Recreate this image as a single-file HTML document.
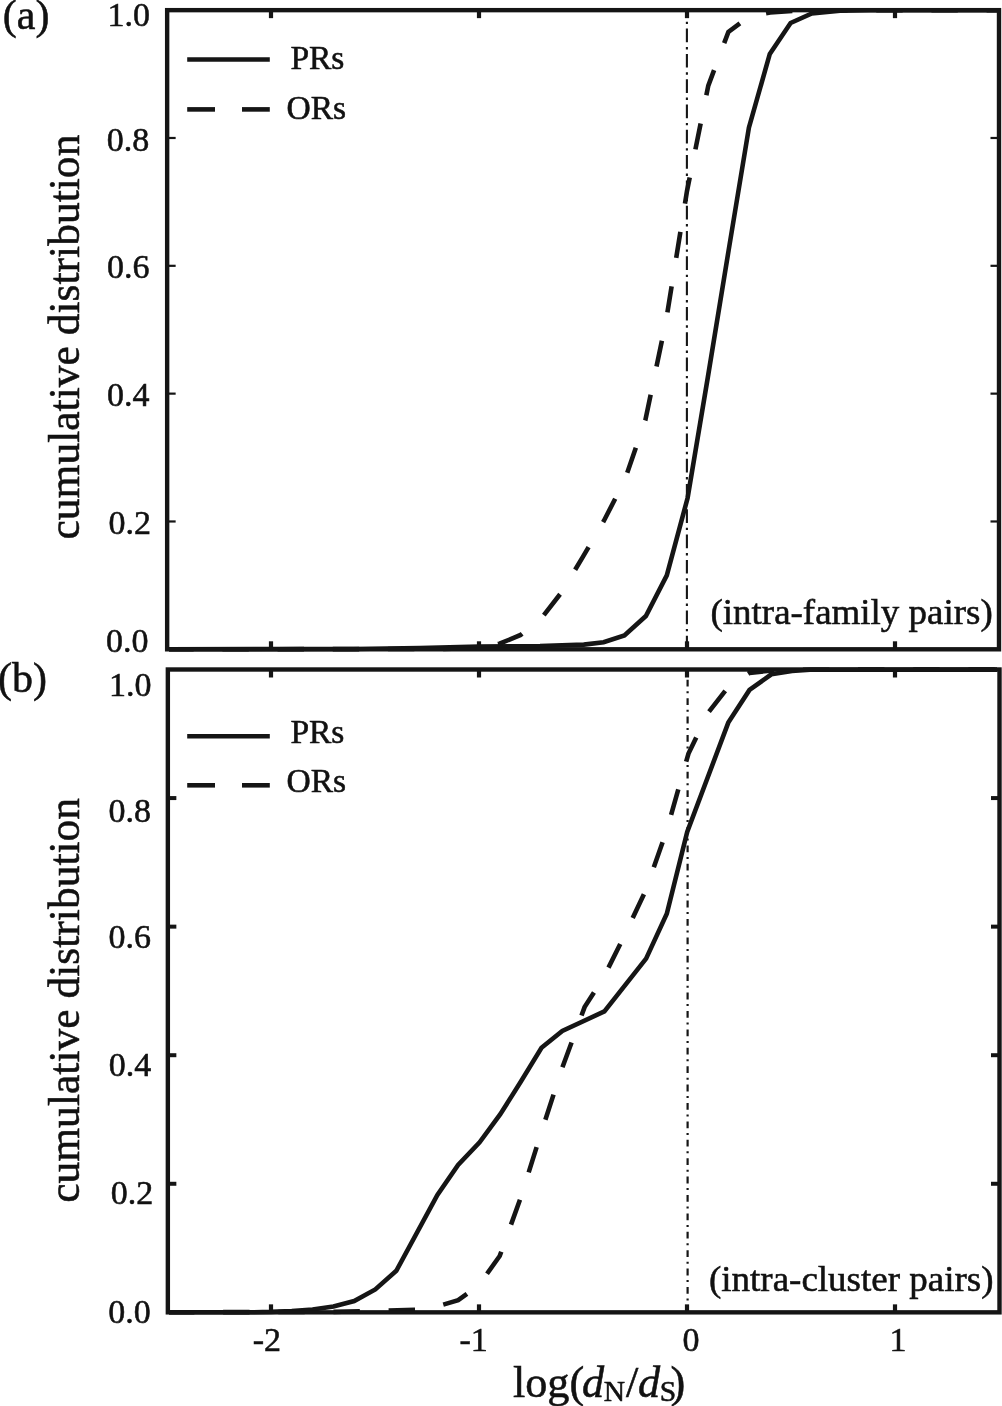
<!DOCTYPE html>
<html><head><meta charset="utf-8"><title>cumulative distribution</title>
<style>html,body{margin:0;padding:0;background:#fff;}svg{display:block;will-change:transform;}</style></head>
<body><svg width="1002" height="1406" viewBox="0 0 1002 1406">
<rect x="0" y="0" width="1002" height="1406" fill="#fff"/>

<line x1="686.9" y1="10" x2="686.9" y2="649" stroke="#151515" stroke-width="2.1" stroke-dasharray="13.7 4.7 2.4 4.5" stroke-dashoffset="6.70"/>
<line x1="687.6" y1="669.5" x2="687.6" y2="1312" stroke="#151515" stroke-width="2.2" stroke-dasharray="6.8 4.7 2.0 4.9" stroke-dashoffset="8.10"/>
<polyline points="169.0,649.3 354.0,649.0 420.0,648.0 479.0,646.6 540.0,646.0 583.8,644.6 603.6,642.2 624.4,635.4 645.9,616.0 666.8,575.4 687.6,498.0 707.8,377.5 728.6,250.5 748.9,127.7 769.8,53.9 790.6,23.0 811.8,13.4 840.0,10.8 870.0,10.2 997.0,10.2" fill="none" stroke="#151515" stroke-width="4.6" stroke-linejoin="miter"/>
<polyline points="169.0,649.3 440.0,649.0 479.0,647.8 499.5,643.7 520.6,635.0 541.4,618.2 562.2,591.5 583.0,556.6 603.8,521.0 624.6,480.4 645.4,420.0 666.2,320.0 687.0,191.0 708.3,85.6 728.4,31.9 749.4,16.2 770.2,12.5 800.0,10.5 830.0,10.2 997.0,10.2" fill="none" stroke="#151515" stroke-width="4.6" stroke-dasharray="26.4 28.77" stroke-dashoffset="1.74"/>
<polyline points="169.0,1312.3 250.0,1312.3 271.0,1311.9 291.8,1311.0 312.6,1309.5 333.4,1306.5 354.2,1301.1 375.3,1289.4 396.3,1270.8 437.4,1195.0 458.1,1165.0 479.6,1142.3 500.3,1114.2 520.6,1082.0 541.5,1047.8 562.3,1031.0 604.4,1011.4 646.1,958.6 666.8,913.8 687.2,832.0 728.3,722.6 749.5,689.9 771.4,674.3 792.0,671.0 810.0,669.8 997.0,669.6" fill="none" stroke="#151515" stroke-width="4.6"/>
<polyline points="169.0,1312.3 333.0,1311.9 361.0,1311.3 388.7,1310.5 416.0,1309.8 437.4,1306.3 458.2,1300.2 479.0,1285.0 499.7,1256.0 520.6,1198.0 541.4,1132.0 562.2,1068.0 584.6,1007.1 603.8,977.0 624.6,935.3 645.4,891.0 666.2,832.0 688.5,753.5 708.0,713.0 728.6,686.5 749.4,672.9 770.0,670.7 800.0,669.7 997.0,669.6" fill="none" stroke="#151515" stroke-width="4.6" stroke-dasharray="26.4 28.77" stroke-dashoffset="1.04"/>
<line x1="167.15" y1="521.47" x2="175.65" y2="521.47" stroke="#151515" stroke-width="2.2"/>
<line x1="999.0" y1="521.47" x2="990.5" y2="521.47" stroke="#151515" stroke-width="2.2"/>
<line x1="167.15" y1="393.63999999999993" x2="175.65" y2="393.63999999999993" stroke="#151515" stroke-width="2.2"/>
<line x1="999.0" y1="393.63999999999993" x2="990.5" y2="393.63999999999993" stroke="#151515" stroke-width="2.2"/>
<line x1="167.15" y1="265.81" x2="175.65" y2="265.81" stroke="#151515" stroke-width="2.2"/>
<line x1="999.0" y1="265.81" x2="990.5" y2="265.81" stroke="#151515" stroke-width="2.2"/>
<line x1="167.15" y1="137.97999999999996" x2="175.65" y2="137.97999999999996" stroke="#151515" stroke-width="2.2"/>
<line x1="999.0" y1="137.97999999999996" x2="990.5" y2="137.97999999999996" stroke="#151515" stroke-width="2.2"/>
<line x1="271" y1="10.15" x2="271" y2="18.15" stroke="#151515" stroke-width="4.2"/>
<line x1="271" y1="649.3" x2="271" y2="641.3" stroke="#151515" stroke-width="4.2"/>
<line x1="479" y1="10.15" x2="479" y2="18.15" stroke="#151515" stroke-width="4.2"/>
<line x1="479" y1="649.3" x2="479" y2="641.3" stroke="#151515" stroke-width="4.2"/>
<line x1="687" y1="10.15" x2="687" y2="18.15" stroke="#151515" stroke-width="4.2"/>
<line x1="687" y1="649.3" x2="687" y2="641.3" stroke="#151515" stroke-width="4.2"/>
<line x1="895" y1="10.15" x2="895" y2="18.15" stroke="#151515" stroke-width="4.2"/>
<line x1="895" y1="649.3" x2="895" y2="641.3" stroke="#151515" stroke-width="4.2"/>
<rect x="167.15" y="10.15" width="831.85" height="639.15" fill="none" stroke="#151515" stroke-width="4.4"/>
<line x1="167.85" y1="1183.78" x2="176.35" y2="1183.78" stroke="#151515" stroke-width="4.0"/>
<line x1="999.5" y1="1183.78" x2="991.0" y2="1183.78" stroke="#151515" stroke-width="4.0"/>
<line x1="167.85" y1="1055.21" x2="176.35" y2="1055.21" stroke="#151515" stroke-width="4.0"/>
<line x1="999.5" y1="1055.21" x2="991.0" y2="1055.21" stroke="#151515" stroke-width="4.0"/>
<line x1="167.85" y1="926.64" x2="176.35" y2="926.64" stroke="#151515" stroke-width="4.0"/>
<line x1="999.5" y1="926.64" x2="991.0" y2="926.64" stroke="#151515" stroke-width="4.0"/>
<line x1="167.85" y1="798.0699999999999" x2="176.35" y2="798.0699999999999" stroke="#151515" stroke-width="4.0"/>
<line x1="999.5" y1="798.0699999999999" x2="991.0" y2="798.0699999999999" stroke="#151515" stroke-width="4.0"/>
<line x1="271" y1="669.5" x2="271" y2="677.5" stroke="#151515" stroke-width="4.2"/>
<line x1="271" y1="1312.35" x2="271" y2="1304.35" stroke="#151515" stroke-width="4.2"/>
<line x1="479" y1="669.5" x2="479" y2="677.5" stroke="#151515" stroke-width="4.2"/>
<line x1="479" y1="1312.35" x2="479" y2="1304.35" stroke="#151515" stroke-width="4.2"/>
<line x1="687" y1="669.5" x2="687" y2="677.5" stroke="#151515" stroke-width="4.2"/>
<line x1="687" y1="1312.35" x2="687" y2="1304.35" stroke="#151515" stroke-width="4.2"/>
<line x1="895" y1="669.5" x2="895" y2="677.5" stroke="#151515" stroke-width="4.2"/>
<line x1="895" y1="1312.35" x2="895" y2="1304.35" stroke="#151515" stroke-width="4.2"/>
<rect x="167.85" y="669.5" width="831.65" height="642.8499999999999" fill="none" stroke="#151515" stroke-width="4.4"/>
<g font-family="Liberation Serif" fill="#111" stroke="#111" stroke-width="0.55">
<line x1="187.2" y1="59.5" x2="269.8" y2="59.5" stroke="#151515" stroke-width="4.6"/>
<line x1="187.2" y1="109.4" x2="215" y2="109.4" stroke="#151515" stroke-width="4.6"/>
<line x1="242" y1="109.4" x2="269.8" y2="109.4" stroke="#151515" stroke-width="4.6"/>
<text x="290.4" y="69.2" font-size="33.5">PRs</text>
<text x="286.5" y="119.1" font-size="33.5">ORs</text>
<line x1="187.2" y1="736.2" x2="269.8" y2="736.2" stroke="#151515" stroke-width="4.6"/>
<line x1="187.2" y1="785.3" x2="215" y2="785.3" stroke="#151515" stroke-width="4.6"/>
<line x1="242" y1="785.3" x2="269.8" y2="785.3" stroke="#151515" stroke-width="4.6"/>
<text x="290.4" y="742.8" font-size="33.5">PRs</text>
<text x="286.5" y="791.8" font-size="33.5">ORs</text>
<text x="2.8" y="29.2" font-size="42">(a)</text>
<text x="-2.0" y="691.8" font-size="42">(b)</text>
<text x="107.5" y="25.5" font-size="34">1.0</text>
<text x="106.8" y="150.9" font-size="34">0.8</text>
<text x="106.9" y="277.6" font-size="34">0.6</text>
<text x="106.9" y="405.8" font-size="34">0.4</text>
<text x="108.6" y="533.6" font-size="34">0.2</text>
<text x="106.0" y="652.2" font-size="34">0.0</text>
<text x="109.1" y="696.0" font-size="34">1.0</text>
<text x="108.6" y="821.7" font-size="34">0.8</text>
<text x="108.6" y="947.7" font-size="34">0.6</text>
<text x="108.8" y="1075.8" font-size="34">0.4</text>
<text x="110.8" y="1204.0" font-size="34">0.2</text>
<text x="108.2" y="1322.8" font-size="34">0.0</text>
<text x="252.7" y="1350.5" font-size="34">-2</text>
<text x="459.5" y="1350.5" font-size="34">-1</text>
<text x="682.6" y="1350.5" font-size="34">0</text>
<text x="889.4" y="1350.5" font-size="34">1</text>
<text x="710.5" y="623.7" font-size="36.5" textLength="282.2" lengthAdjust="spacingAndGlyphs">(intra-family pairs)</text>
<text x="709.0" y="1290.7" font-size="36.5" textLength="284.5" lengthAdjust="spacingAndGlyphs">(intra-cluster pairs)</text>
<text transform="translate(79.4,539.5) rotate(-90)" x="0" y="0" font-size="44.5" textLength="404.9" lengthAdjust="spacingAndGlyphs">cumulative distribution</text>
<text transform="translate(79.4,1202.8) rotate(-90)" x="0" y="0" font-size="44.5" textLength="404.9" lengthAdjust="spacingAndGlyphs">cumulative distribution</text>
<text x="512.9" y="1396.8" font-size="44.3">log(</text>
<text x="582.0" y="1396.8" font-size="44.3" font-style="italic">d</text>
<text x="603.8" y="1400.6" font-size="29.5">N</text>
<text x="626.1" y="1396.8" font-size="44.3">/</text>
<text x="638.0" y="1396.8" font-size="44.3" font-style="italic">d</text>
<text x="659.7" y="1401.1" font-size="29.5">S</text>
<text x="670.4" y="1396.8" font-size="44.3">)</text>
</g>
</svg></body></html>
